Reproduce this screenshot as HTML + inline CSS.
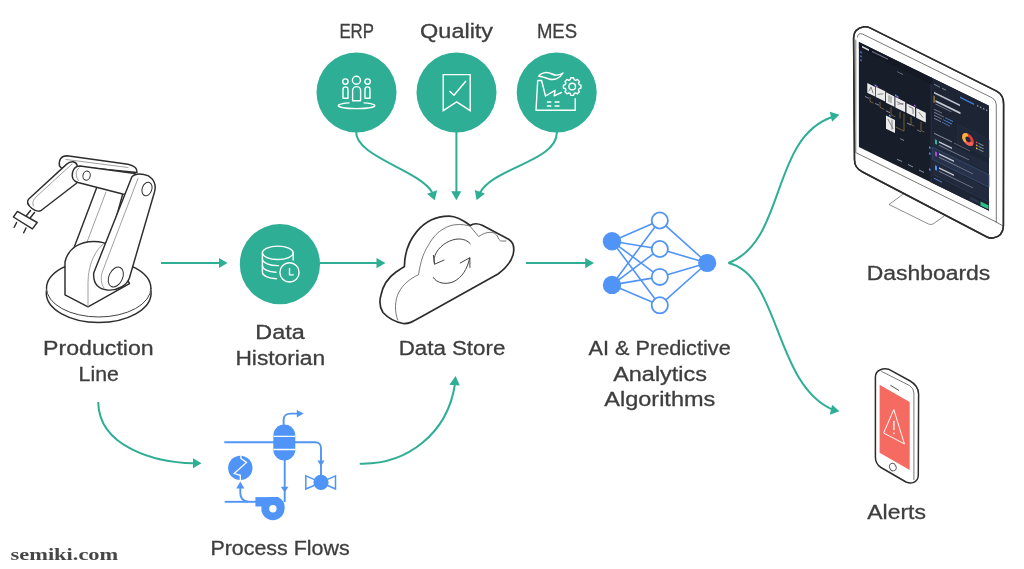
<!DOCTYPE html>
<html><head><meta charset="utf-8">
<style>
html,body{margin:0;padding:0;background:#fff;width:1024px;height:569px;overflow:hidden}
svg{display:block;will-change:transform}
text{font-family:"Liberation Sans",sans-serif;fill:#3e3e3e;stroke:#3e3e3e;stroke-width:0.3}
</style></head><body>
<svg width="1024" height="569" viewBox="0 0 1024 569">
<defs>
<marker id="ah" markerWidth="10" markerHeight="10" refX="0" refY="0" orient="auto" markerUnits="userSpaceOnUse" viewBox="-9 -5 10 10">
<path d="M-9,-5 L0.5,0 L-9,5 Z" fill="#2eae94"/>
</marker>
</defs>

<!-- ============ TEAL ARROWS ============ -->
<g fill="none" stroke="#2eae94" stroke-width="2">
 <!-- robot -> historian -->
 <path d="M161,263 H219"/>
 <path d="M219,258 L227.5,263 L219,268 Z" fill="#2eae94" stroke="none"/>
 <!-- historian -> cloud -->
 <path d="M320,263 H377"/>
 <path d="M376.5,258 L385.5,263 L376.5,268.3 Z" fill="#2eae94" stroke="none"/>

 <!-- top arrows -->
 <path d="M356.2,131.5 C354.7,156.1 419.0,170.1 432.0,192.0"/>
 <path d="M456.4,131.5 V192"/>
 <path d="M556.8,131.5 C558.6,161.2 492.5,167.6 480.0,193.0"/>
 <!-- lower left curve -->
 <path d="M98.2,401.9 C98.9,448.0 157.2,462.4 193.5,463.2"/>
 <!-- process -> store -->
 <path d="M359.7,463.7 C408.2,465.0 447.5,432.3 454.8,385.0"/>
 <!-- right fork -->
 <path d="M728.4,263 C786.7,241 770,137.4 833,116.8"/>
 <path d="M728.4,263 C780,274.6 774.2,384.9 833,409.8"/>
 <!-- cloud -> AI -->
 <path d="M526,263 H586"/>
 <path d="M585.2,258 L594,263 L585.2,268.3 Z" fill="#2eae94" stroke="none"/>

 <path d="M427,193.7 L434.7,200.3 L437.2,190.2 Z" fill="#2eae94" stroke="none"/>
 <path d="M451.2,191.3 L456.4,200.2 L461.3,191.3 Z" fill="#2eae94" stroke="none"/>
 <path d="M474.8,190.1 L476.6,200.2 L484.9,193.5 Z" fill="#2eae94" stroke="none"/>
 <path d="M193,458.3 L201.5,463.2 L193,468.3 Z" fill="#2eae94" stroke="none"/>
 <path d="M449.4,384.8 L455.6,375.9 L459.8,385.4 Z" fill="#2eae94" stroke="none"/>
 <path d="M829.8,111.7 L839.4,114.8 L832.1,121.8 Z" fill="#2eae94" stroke="none"/>
 <path d="M832.1,404.8 L839.4,411.3 L829.8,414.7 Z" fill="#2eae94" stroke="none"/>
</g>

<!-- ============ TOP CIRCLES ============ -->
<g fill="#2eae94">
 <circle cx="356.5" cy="92.5" r="40"/>
 <circle cx="456.5" cy="92.5" r="40"/>
 <circle cx="556.7" cy="92.5" r="40"/>
 <circle cx="279.9" cy="264.2" r="40.1"/>
</g>


<!-- ============ CIRCLE ICONS ============ -->
<g fill="none" stroke="#fff" stroke-width="1.4" stroke-linejoin="round" stroke-linecap="round">
 <!-- ERP -->
 <circle cx="356.4" cy="80.3" r="4"/>
 <circle cx="345.4" cy="81.6" r="2.7"/>
 <circle cx="367.6" cy="81.6" r="2.7"/>
 <path d="M352.6,100.8 V90.6 A4,4 0 0 1 360.6,90.6 V100.8 Z"/>
 <path d="M343,98.2 V89.4 A2.5,2.5 0 0 1 348,89.4 V98.2 Z"/>
 <path d="M365,98.2 V89.4 A2.5,2.5 0 0 1 370,89.4 V98.2 Z"/>
 <path d="M349.1,102.9 A18.2,3 0 1 0 364,102.9"/>
 <!-- Quality -->
 <path d="M443.2,74.6 H470.2 V110.6 L456.6,101.8 L443.2,110.6 Z" stroke-linecap="butt" stroke-linejoin="miter"/>
 <path d="M450,91.5 L454,95.2 L465.7,81.2"/>
 <!-- MES -->
 <path d="M575.2,98.8 V110.2 H536 L537.7,80.5 H541.6 L545.5,96 L555.1,90.3 L554.2,95.9 L561.4,92.5"/>
 <path d="M538.7,76.2 C542,71.5 548,72 552,74 C556,76 560,75 563,73 C560,78.5 554,80.5 549,79 C545,77.8 542,76 538.7,76.2 Z"/>
 <path d="M547.4,102 H550.8 M555.1,102 H559 M547.4,106 H550.8 M555.1,106 H559"/>
 <circle cx="572.2" cy="86.6" r="3.3"/>
 <path d="M579.11,84.59 L580.99,85.21 L580.99,87.99 L579.11,88.61 L578.51,90.07 L579.40,91.83 L577.43,93.80 L575.67,92.91 L574.21,93.51 L573.59,95.39 L570.81,95.39 L570.19,93.51 L568.73,92.91 L566.97,93.80 L565.00,91.83 L565.89,90.07 L565.29,88.61 L563.41,87.99 L563.41,85.21 L565.29,84.59 L565.89,83.13 L565.00,81.37 L566.97,79.40 L568.73,80.29 L570.19,79.69 L570.81,77.81 L573.59,77.81 L574.21,79.69 L575.67,80.29 L577.43,79.40 L579.40,81.37 L578.51,83.13 Z"/>
 <!-- Historian -->
 <ellipse cx="277.8" cy="252.8" rx="15.4" ry="6.7"/>
 <path d="M293.2,252.8 V260"/>
 <path d="M262.4,252.8 V272 A15.4,6.7 0 0 0 276.4,278.8"/>
 <path d="M262.4,259 A15.4,6.7 0 0 0 278.5,265.6"/>
 <path d="M262.4,265.6 A15.4,6.7 0 0 0 276,272.3"/>
 <circle cx="289.5" cy="272.4" r="9.6"/>
 <path d="M289.5,268.5 V274.9 H293.2"/>
</g>


<!-- ============ ROBOT ARM ============ -->
<g fill="#fff" stroke="#2d2d2d" stroke-width="1.45" stroke-linejoin="round" stroke-linecap="round">
 <!-- base disc -->
 <ellipse cx="98.7" cy="293" rx="52.4" ry="29.5" stroke-width="1.5"/>
 <ellipse cx="98.7" cy="288.4" rx="52.2" ry="28.6" stroke="none"/>
 <path d="M46.5,288.4 A52.2,28.6 0 0 1 150.9,288.4" fill="none" stroke-width="1.5"/>
 <path d="M46.5,288.4 A52.2,28.6 0 0 0 150.9,288.4" fill="none" stroke="#444" stroke-width="1"/>
 <!-- column -->
 <path d="M97.5,185.5 L124,189.5 L104,262 L69.5,259.7 Z"/>
 <path d="M106,192 L84,250" stroke="#777" stroke-width="0.7"/>
 <!-- shoulder block -->
 <path d="M65,294.8 V262 C68,248 80,241.5 94,241.5 C100,241.5 106,243 110,246 L129.5,283.7 L88,306.8 Z"/>
 <path d="M88,306.8 V283 C88,265 95,250 104,243.5" stroke="#777" stroke-width="0.7"/>
 <!-- tool -->
 <path d="M30.5,210.5 L26.5,215.5 M34.5,212.5 L30.5,217.5"/>
 <path d="M17.4,211.4 L37.2,222.5 L32.4,228.9 L13.4,217 Z"/>
 <path d="M16.6,222.5 L14.2,227.3 M26,228 L23.7,232.8"/>
 <!-- plate -->
 <path d="M59.5,166 C58.5,160 61,155.8 67,155.8 L128,164.2 C134,165.5 137.5,168.5 137,172.5 L80,167 L62,168.5 Z"/>
 <path d="M66,159.5 L128,167.5" stroke="#777" stroke-width="0.7"/>
 <!-- forearm -->
 <path d="M28.5,199.2 L66.7,164.1 C69,162 71,161.5 73,161.7 C75,162 76.5,163 77,165 L80,178 L76.5,183.2 L41.4,210.3 C38,212 35,211 32,208.5 C28,205.5 26.5,202 28.5,199.2 Z"/>
 <path d="M33.5,206 C32,203 33,200 36,197 L72,164" stroke="#777" stroke-width="0.7"/>
 <!-- elbow link -->
 <path d="M80,166 L135,173.5 L148,196 L122.7,194 L78,182.5 C73,181 71.5,177 72.5,172.5 C73.5,168.5 76.5,166 80,166 Z"/>
 <path d="M79,168 C75.5,170 75,176 78.5,180.5" stroke="#777" stroke-width="0.7"/>
 <ellipse cx="86.6" cy="175.6" rx="3.6" ry="4.6" transform="rotate(15 86.6 175.6)" stroke-width="1"/>
 <!-- upper arm -->
 <path d="M131.8,177 C134,174.5 139,173.5 144,174.5 C150,175.5 155.5,180 155.2,188.3 L154.5,192 L129.4,278 C127,285 118,291 107.2,290 C99,289 94,285 93.7,276 C93.6,274 93.7,273 93.7,273 Z"/>
 <path d="M138,178.5 L102.3,272 C100.5,278 101,284 104,288" stroke="#777" stroke-width="0.7"/>
 <ellipse cx="147" cy="189" rx="4.8" ry="7" transform="rotate(20 147 189)" stroke-width="1"/>
 <ellipse cx="115.8" cy="277" rx="6.8" ry="10.5" transform="rotate(25 115.8 277)" stroke-width="1"/>
</g>


<!-- ============ CLOUD ============ -->
<g fill="none" stroke-linejoin="round" stroke-linecap="round">
 <path fill="#fff" stroke="#2d2d2d" stroke-width="1.7" d="M403,323.5 C396,322 388,318 383,312.5 C379.5,307 379.5,300 381,295 C383,285 389,277 396,272 C399,270 402,268 404.4,266.5 C404.67,240.9 422,215.9 449.2,216.1 C456,216.2 463,220 470.3,225.5 C473,223.5 478,223.5 482.2,225.2 L508.6,239.3 C513,242 515,247 513,255 C511,262 506,268 498,274 L420,317.5 C413,321.5 409,324 403,323.5 Z"/>
 <path stroke="#555" stroke-width="0.8" d="M397.8,320 C394.5,313 394.5,300 399,292 C403,284.5 410,278.5 418.5,274.8 C419.5,268 421,262 422.3,258 C425,250 428,246 430,242.4 C434,236 438,232 443,229.2 C448,226 452,225 455,224.8 C461,224 466,225 469.9,226 L478.7,236.6 C482,234 487,232 491,232.3 C494,232.5 497,234 498.6,239 L500.7,241 L506,241"/>
 <path stroke="#444" stroke-width="1" d="M470.3,243.7 C458.5,230.1 429.9,247.8 434.4,264 M433.4,255.4 L434.6,264.2 L444,260.1"/>
 <path stroke="#444" stroke-width="1" d="M433.3,277.5 C437,283.5 446,285 454,281.5 C462,277 467,270 469.7,258 M460.2,263 L469.9,257.7 L469.9,267.4"/>
</g>

<!-- ============ NEURAL NET ============ -->
<g stroke="#5094f8" stroke-width="1.6" fill="none">
 <path d="M612,241.3 L659.7,220.4 M612,241.3 L659.7,249 M612,241.3 L659.7,276.9 M612,241.3 L659.7,305.3
          M612,284.9 L659.7,220.4 M612,284.9 L659.7,249 M612,284.9 L659.7,276.9 M612,284.9 L659.7,305.3
          M659.7,220.4 L707.2,263 M659.7,249 L707.2,263 M659.7,276.9 L707.2,263 M659.7,305.3 L707.2,263"/>
 <g fill="#fff" stroke-width="1.8">
  <circle cx="659.8" cy="220.5" r="8.1"/>
  <circle cx="659.8" cy="249" r="8.1"/>
  <circle cx="659.8" cy="276.9" r="8.1"/>
  <circle cx="659.8" cy="305.3" r="8.1"/>
 </g>
 <g fill="#5094f8" stroke="none">
  <circle cx="612" cy="241.3" r="9.2"/>
  <circle cx="612" cy="284.9" r="9.2"/>
  <circle cx="707.2" cy="263" r="9.1"/>
 </g>
</g>


<!-- ============ PROCESS FLOWS ============ -->
<g fill="none" stroke="#5094f8" stroke-width="1.9">
 <path d="M224.3,442.2 H275"/>
 <path d="M294,442.2 H315.5 C318.8,442.2 321,444.7 321,448 V461"/>
 <path d="M321,465 V476"/>
 <path d="M283.6,425 V420 C283.6,416 286.5,413.6 290.5,413.6 H297.5"/>
 <path d="M284.7,460 V487.5 M284.7,491 V502"/>
 <path d="M224.7,501.8 H256"/>
 <path d="M248,501.8 C243,501 240.3,498 240.3,493 V487.5"/>
 <g fill="#5094f8" stroke="none">
  <rect x="273.3" y="424.6" width="22" height="35.8" rx="11"/>
  <path d="M296.8,409.9 L303.6,413.6 L296.8,417.6 Z"/>
  <path d="M317.5,460.4 L321,466.2 L324.5,460.4 Z"/>
  <path d="M280.8,486.8 L284.7,492.6 L288.4,486.8 Z"/>
  <path d="M236.2,488.5 L240.3,481.5 L244.4,488.5 Z"/>
  <circle cx="321" cy="482.4" r="7.6"/>
  <circle cx="240.3" cy="467.9" r="12.2"/>
  <rect x="255.4" y="497.1" width="18" height="9.4"/>
  <circle cx="272.9" cy="508.6" r="11.6"/>
  <path d="M272.9,497 H278 A11.6,11.6 0 0 1 284.5,508.6 H272.9 Z"/>
 </g>
 <path d="M305.8,475.8 V489 L321,482.4 Z M335.5,475.8 V489 L321,482.4 Z" stroke-width="1.5" stroke-linejoin="miter"/>
 <g stroke="#fff" stroke-width="1.3">
  <path d="M273.3,436.3 H295.3 M273.3,449.5 H295.3"/>
  <path d="M240.9,455.6 V458.5 L246.5,462.4 L234.2,473.5 L240.3,475.3 V480.4"/>
 </g>
 <circle cx="272.9" cy="508.8" r="3.7" fill="#fff" stroke="none"/>
</g>

<!-- ============ MONITOR ============ -->
<g stroke-linejoin="round" stroke-linecap="round">
 <path d="M906,192 L889,204.5 L928.5,224 Q931,225 933,224 L944.3,216 L944.3,205" fill="#fff" stroke="#808080" stroke-width="0.9"/>
 <path d="M853.6,38 Q853.6,28.5 864,26.8 Q867,26.3 870,27.8 L996.6,91.2 Q1003.6,95 1003.6,104 L1003.4,226 Q1003,236.5 993,238 Q990,238.5 987,237 L862.6,172 Q854.5,168 854.5,160 Z" fill="#fff" stroke="#2d2d2d" stroke-width="1.5"/>
 <path d="M857.5,37 Q858,32.5 862.5,34 L992.5,98 Q996.3,100.5 996.3,105 V222 M855.8,40 V152.6 L996.3,222" fill="none" stroke="#555" stroke-width="0.8"/>
 <path d="M996,222 L1003.2,226" fill="none" stroke="#555" stroke-width="0.8"/>
 <g transform="matrix(1,0.49,0,1,0,-420.86)">
  <rect x="858.9" y="42" width="130.1" height="105" fill="#181d2a"/>
  <rect x="932.2" y="42" width="56.8" height="105" fill="#1d2434"/>
  <rect x="930.5" y="42" width="1.7" height="105" fill="#232b3c"/>
  <rect x="858.9" y="42" width="73.3" height="6.5" fill="#151925"/>
  <rect x="862" y="44.2" width="7" height="1.8" fill="#d5d9e0"/>
  <rect x="872" y="44.5" width="16" height="1.1" fill="#7a8292"/>
  <rect x="860.3" y="50.5" width="1.3" height="1.6" fill="#5094f8"/>
  <rect x="860.3" y="54.5" width="1.3" height="1.6" fill="#5094f8"/>
  <rect x="860.3" y="58.5" width="1.3" height="1.6" fill="#5094f8"/>
  <rect x="897" y="52.5" width="6" height="0.9" fill="#6b7385"/>
  <g fill="#ececec">
   <rect x="867.3" y="79" width="7.8" height="9.6"/>
   <rect x="875.8" y="78.4" width="9.4" height="10.2"/>
   <rect x="886" y="79" width="8.4" height="10.4"/>
   <rect x="895.4" y="79.2" width="9.8" height="10.4"/>
   <rect x="906.5" y="79.8" width="8.6" height="9.6"/>
   <rect x="916.2" y="80" width="9.6" height="9.6"/>
   <rect x="886" y="102.2" width="9" height="13.2"/>
  </g>
  <g fill="none" stroke="#777" stroke-width="0.8">
   <path d="M869,86 L871,81 L873,86 M878,85 L883,82 M889,81 V87 M891,81 V87 M898,85 L903,82 M897,83 H903 M909,82 H913 V87 M919,83 L923,86 M888,105 L893,112 M892,104 V113"/>
  </g>
  <g fill="none" stroke="#a8873c" stroke-width="0.55">
   <path d="M870,92 V96 H873 M880,92 V97 H884 M891,92 V99 H895 M900,92 V98 M911,92 V99 H914 M921,92 V100 H924 M896,109 H904 V92"/>
  </g>
  <g fill="#8a92a3">
   <rect x="865" y="93" width="4" height="0.9"/><rect x="875" y="95" width="4" height="0.9"/><rect x="886" y="97" width="4" height="0.9"/>
   <rect x="907" y="99" width="4" height="0.9"/><rect x="917" y="101" width="4" height="0.9"/><rect x="900" y="118" width="4" height="0.9"/>
   <rect x="897" y="140" width="5" height="1"/><rect x="908" y="140" width="5" height="1"/><rect x="919" y="140" width="5" height="1"/>
  </g>
  <rect x="874.5" y="76.6" width="1.6" height="1.6" fill="#5094f8"/>
  <rect x="876.2" y="77" width="1.6" height="1.6" fill="#b45cf0"/>
  <rect x="895" y="76.6" width="1.6" height="1.6" fill="#5094f8"/>
  <rect x="896.8" y="77" width="1.6" height="1.6" fill="#b45cf0"/>
  <rect x="914" y="77.5" width="1.6" height="1.6" fill="#b45cf0"/>
  <rect x="889" y="99.8" width="1.6" height="1.6" fill="#5094f8"/>
  <rect x="929" y="112" width="1.5" height="2" fill="#5094f8"/>
  <rect x="929" y="118" width="1.5" height="2" fill="#5094f8"/>
  <rect x="929" y="134" width="1.5" height="2" fill="#5094f8"/>
  <rect x="934" y="47" width="6" height="1" fill="#7c8496"/>
  <rect x="942" y="47" width="4" height="1" fill="#7c8496"/>
  <rect x="960" y="47" width="14" height="1.5" fill="#3e7fd6"/>
  <rect x="977" y="47" width="1.4" height="1.4" fill="#8a92a3"/><rect x="980" y="47" width="1.4" height="1.4" fill="#8a92a3"/><rect x="983" y="47" width="1.4" height="1.4" fill="#8a92a3"/><rect x="986" y="47" width="1.4" height="1.4" fill="#8a92a3"/>
  <rect x="934" y="55" width="26" height="1.6" fill="#b9bec8"/>
  <rect x="933.6" y="59" width="1" height="7" fill="#c9a03c"/>
  <rect x="935.5" y="62.5" width="25" height="2" fill="#c5cad3"/>
  <rect x="935.5" y="66" width="16" height="0.9" fill="#7c8496"/>
  <rect x="934" y="72" width="8" height="0.9" fill="#7c8496"/>
  <rect x="934" y="75" width="10" height="0.9" fill="#7c8496"/><rect x="945" y="75" width="8" height="0.9" fill="#4f86d0"/>
  <rect x="934" y="78" width="8" height="0.9" fill="#7c8496"/><rect x="943" y="78" width="9" height="0.9" fill="#4f86d0"/>
  <rect x="934" y="81" width="7" height="0.9" fill="#7c8496"/><rect x="942" y="81" width="8" height="0.9" fill="#4f86d0"/>
  <rect x="961" y="79" width="12" height="1" fill="#8a92a3"/>
  <rect x="958" y="76" width="31" height="18" fill="#1f2839" stroke="#2a3447" stroke-width="0.5"/><circle cx="968" cy="86" r="4.3" fill="none" stroke="#e43b3b" stroke-width="3.2"/>
  <path d="M971.5,88.5 A4.3,4.3 0 0 1 965,89" fill="none" stroke="#f4625a" stroke-width="3.2"/>
  <path d="M964.5,88.5 A4.3,4.3 0 0 1 966.5,82" fill="none" stroke="#f0b53a" stroke-width="3.2"/>
  <rect x="976" y="84" width="1.5" height="1.5" fill="#e4473f"/><rect x="978.5" y="84.2" width="5" height="1" fill="#8a92a3"/>
  <rect x="976" y="87" width="1.5" height="1.5" fill="#f0a23a"/><rect x="978.5" y="87.2" width="5" height="1" fill="#8a92a3"/>
  <rect x="976" y="90" width="1.5" height="1.5" fill="#f3c74a"/><rect x="978.5" y="90.2" width="5" height="1" fill="#8a92a3"/>
  <rect x="934" y="96" width="18" height="1" fill="#8a92a3"/><rect x="954" y="96" width="16" height="1" fill="#5b6375"/>
  <rect x="933" y="99.5" width="56" height="10" fill="#222b3d"/>
  <rect x="933" y="111" width="56" height="12.5" fill="#27324a" stroke="#3a5878" stroke-width="0.6"/>
  <rect x="933" y="125" width="56" height="12" fill="#222b3d"/>
  <path d="M933,138 H989" stroke="#2f3a4f" stroke-width="0.8"/>
  <rect x="935" y="102" width="2" height="4.5" fill="#2fb5a0"/>
  <rect x="935" y="114" width="2" height="4.5" fill="#a34ad8"/>
  <rect x="935" y="128" width="2" height="4.5" fill="#5094f8"/>
  <rect x="939" y="102" width="13" height="1.5" fill="#c5cad3"/>
  <rect x="939" y="114" width="15" height="1.5" fill="#c5cad3"/>
  <rect x="939" y="128" width="15" height="1.5" fill="#c5cad3"/>
  <rect x="939" y="105.5" width="30" height="0.9" fill="#7c8496"/>
  <rect x="939" y="117.5" width="34" height="0.9" fill="#7c8496"/>
  <rect x="939" y="131.5" width="34" height="0.9" fill="#7c8496"/>
  <rect x="934" y="141" width="8" height="1" fill="#4f86d0"/>
  <rect x="970" y="142" width="9" height="3" fill="#2a3547"/>
  <rect x="980.5" y="141.8" width="8" height="4" fill="#2fc08a"/>
 </g>
 <path d="M853.6,38 Q853.6,28.5 864,26.8 Q867,26.3 870,27.8 L996.6,91.2 Q1003.6,95 1003.6,104 L1003.4,226 Q1003,236.5 993,238 Q990,238.5 987,237 L862.6,172 Q854.5,168 854.5,160 Z" fill="none" stroke="#2d2d2d" stroke-width="1.5"/>
</g>

<!-- ============ PHONE ============ -->
<g stroke-linejoin="round" stroke-linecap="round">
 <path d="M875.4,377 Q875.4,372 880,370 Q884,367.8 888.5,369.2 L910.2,381 Q918.6,386 918.6,394 L918.3,475.5 Q918,481 913,482.6 Q910,483.5 906,482 L881,467.5 Q875.4,464 875.4,457 Z" fill="#fff" stroke="#2d2d2d" stroke-width="1.5"/>
 <path d="M881.7,371.5 L909.5,385.5 Q913.9,388.5 913.9,393 V479.6" fill="none" stroke="#555" stroke-width="0.8"/>
 <path d="M879.6,384.7 L909.7,402 V470 L879.6,452.7 Z" fill="#f56b61"/>
 <path d="M890.7,385.4 L898.6,390.3" stroke="#555" stroke-width="1"/>
 <ellipse cx="892.8" cy="467.1" rx="3.2" ry="3.9" transform="rotate(-25 892.8 467.1)" fill="none" stroke="#555" stroke-width="0.9"/>
 <path d="M893.9,409.9 L904.4,443.9 L884,433.2 Z" fill="none" stroke="#fff" stroke-width="1"/>
 <path d="M893.9,421.3 V429.5" stroke="#fff" stroke-width="1.3"/>
 <circle cx="893.9" cy="433.4" r="0.8" fill="#fff"/>
</g>

<!-- ============ LABELS ============ -->
<g font-size="20">
 <text x="339.4" y="37.9" textLength="34.6" lengthAdjust="spacingAndGlyphs">ERP</text>
 <text x="420.1" y="37.9" textLength="73.0" lengthAdjust="spacingAndGlyphs">Quality</text>
 <text x="536.9" y="37.9" textLength="40.2" lengthAdjust="spacingAndGlyphs">MES</text>
 <text x="43.1" y="355.3" textLength="110.6" lengthAdjust="spacingAndGlyphs">Production</text>
 <text x="78.6" y="380.9" textLength="40.2" lengthAdjust="spacingAndGlyphs">Line</text>
 <text x="255.3" y="338.9" textLength="49.4" lengthAdjust="spacingAndGlyphs">Data</text>
 <text x="235.4" y="364.7" textLength="89.8" lengthAdjust="spacingAndGlyphs">Historian</text>
 <text x="398.7" y="355.2" textLength="106.6" lengthAdjust="spacingAndGlyphs">Data Store</text>
 <text x="588.5" y="355.3" textLength="142.2" lengthAdjust="spacingAndGlyphs">AI &amp; Predictive</text>
 <text x="613.2" y="380.9" textLength="93.8" lengthAdjust="spacingAndGlyphs">Analytics</text>
 <text x="604.3" y="406.2" textLength="111.0" lengthAdjust="spacingAndGlyphs">Algorithms</text>
 <text x="866.7" y="279.7" textLength="123.6" lengthAdjust="spacingAndGlyphs">Dashboards</text>
 <text x="867.3" y="518.8" textLength="58.6" lengthAdjust="spacingAndGlyphs">Alerts</text>
 <text x="210.4" y="554.7" textLength="139.3" lengthAdjust="spacingAndGlyphs">Process Flows</text>
</g>
<text x="10.6" y="560.3" font-size="17" font-weight="bold" style="font-family:'Liberation Serif',serif;stroke:none;fill:#464646" textLength="107.6" lengthAdjust="spacingAndGlyphs">semiki.com</text>

</svg>
</body></html>
